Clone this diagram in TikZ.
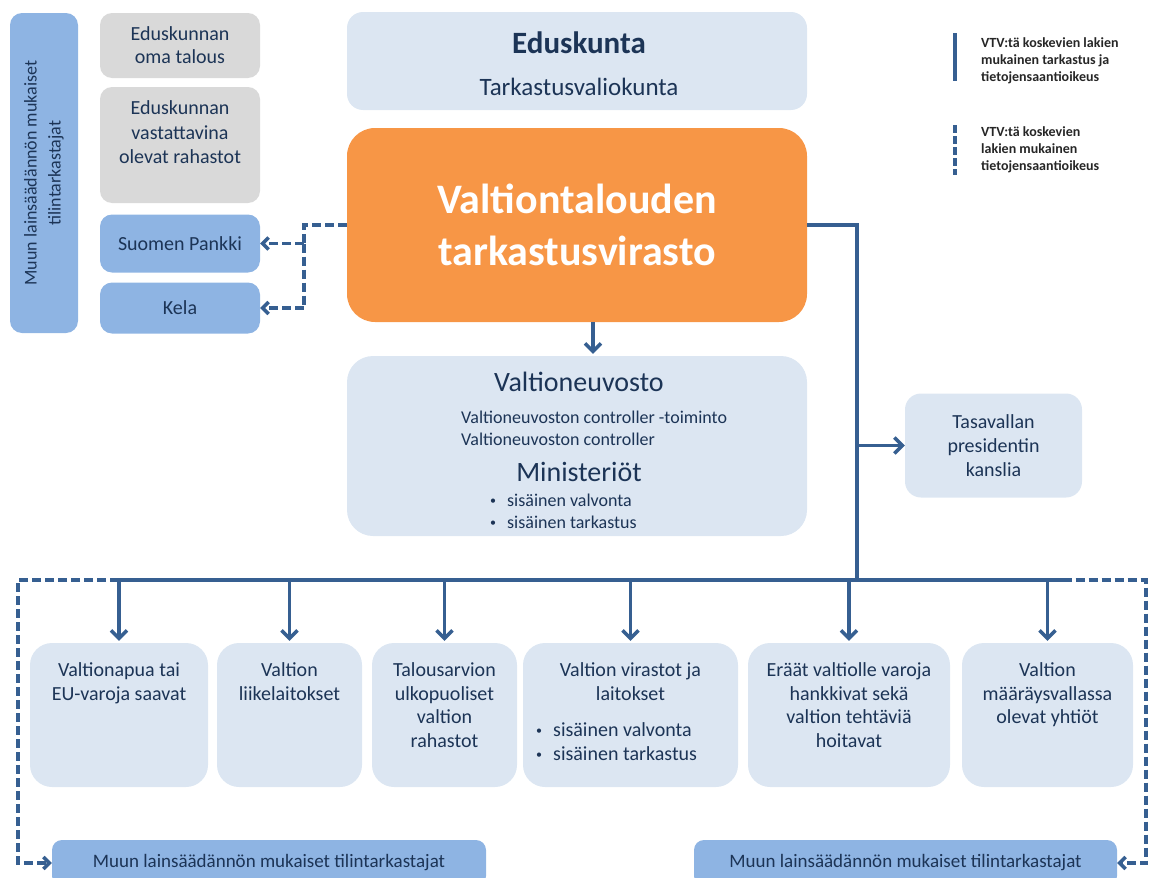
\documentclass[tikz,border=0pt]{standalone}
\usepackage{fontspec}
\setmainfont{Carlito}
\usetikzlibrary{arrows.meta}

\definecolor{vtvorange}{RGB}{247,150,70}
\definecolor{paleblue}{RGB}{220,230,242}
\definecolor{midblue}{RGB}{142,180,227}
\definecolor{palegrey}{RGB}{217,217,217}
\definecolor{linkblue}{RGB}{54,95,145}
\definecolor{navytext}{RGB}{28,52,86}
\definecolor{legendtext}{RGB}{38,38,38}

\newcommand{\fsize}[2]{\fontsize{#1}{#2}\selectfont}
\newcommand{\dotitem}{\raisebox{2pt}{\fsize{12}{12}\textbullet}\hspace{11pt}}

\tikzset{
  box/.style={rounded corners=12pt,inner sep=0pt,align=center,text=navytext,font=\fsize{20}{24}},
  palebox/.style={box,fill=paleblue},
  midbox/.style={box,fill=midblue},
  greybox/.style={box,fill=palegrey},
  boxtext/.style={inner sep=0pt,align=center,text=navytext,font=\fsize{20}{23.5}},
  smalltext/.style={boxtext,font=\fsize{18}{22}},
  legtext/.style={inner sep=0pt,align=left,text=legendtext,font=\fsize{14}{17}\bfseries},
  link/.style={draw=linkblue,line width=3.5pt},
  feed/.style={link,-{Straight Barb[length=8pt,width=16pt]}},
  dashlink/.style={link,dash pattern=on 9pt off 4pt},
  dashfeed/.style={dashlink,-{Straight Barb[length=6pt,width=12pt]}}
}

\begin{document}
\begin{tikzpicture}[x=1pt,y=-1pt,>=Stealth]
\useasboundingbox (0,0) rectangle (1149,878);

% left column
\node[midbox,rotate=90,minimum width=320pt,minimum height=68pt,font=\fsize{18}{24}] (auditcol) at (44,173)
  {Muun lainsäädännön mukaiset\\tilintarkastajat};
\node[greybox,minimum width=160pt,minimum height=65pt,font=\fsize{20}{23}] (omatalous) at (180,45.5)
  {Eduskunnan\\oma talous};
\node[greybox,minimum width=160pt,minimum height=116pt] (rahastot) at (180,145) {};
\node[boxtext,anchor=north,font=\fsize{20}{24.5}] (rahastotT) at ([yshift=-14pt]rahastot.north)
  {Eduskunnan\\vastattavina\\olevat rahastot};
\node[midbox,minimum width=160pt,minimum height=58pt] (pankki) at (180,243.5) {Suomen Pankki};
\node[midbox,minimum width=160pt,minimum height=51pt] (kela) at (180,308) {Kela};

% centre column
\node[palebox,rounded corners=16pt,minimum width=460pt,minimum height=98pt] (eduskunta) at (577,61) {};
\node[boxtext,anchor=base,font=\fsize{31}{36}\bfseries] (eduskuntaT) at (579,53) {Eduskunta};
\node[boxtext,anchor=base,font=\fsize{25}{30}] (tvk) at (579,95) {Tarkastusvaliokunta};

\node[box,fill=vtvorange,rounded corners=28pt,minimum width=460pt,minimum height=194pt,
      text=white,font=\fsize{42}{52}\bfseries] (vtv) at (577,225)
  {Valtiontalouden\\tarkastusvirasto};

\node[palebox,rounded corners=26pt,minimum width=460pt,minimum height=180pt] (vn) at (577,446) {};
\node[boxtext,anchor=base,font=\fsize{28}{32}] (vnT) at (579,391) {Valtioneuvosto};
\node[smalltext,anchor=base west] (ctrlA) at (461,423) {Valtioneuvoston controller -toiminto};
\node[smalltext,anchor=base west] (ctrlB) at (461,445) {Valtioneuvoston controller};
\node[boxtext,anchor=base,font=\fsize{28}{32}] (minT) at (579,481) {Ministeriöt};
\node[smalltext,anchor=base west] (minA) at (490,506) {\dotitem sisäinen valvonta};
\node[smalltext,anchor=base west] (minB) at (490,528) {\dotitem sisäinen tarkastus};

% right column
\node[palebox,rounded corners=16pt,minimum width=177pt,minimum height=104pt] (tpk) at (993.5,445.5)
  {Tasavallan\\presidentin\\kanslia};

% bottom row
\node[palebox,rounded corners=22pt,minimum width=178pt,minimum height=144pt] (b1) at (119,715) {};
\node[palebox,rounded corners=22pt,minimum width=145pt,minimum height=144pt] (b2) at (289.5,715) {};
\node[palebox,rounded corners=22pt,minimum width=145pt,minimum height=144pt] (b3) at (444.5,715) {};
\node[palebox,rounded corners=22pt,minimum width=215pt,minimum height=144pt] (b4) at (630.5,715) {};
\node[palebox,rounded corners=22pt,minimum width=202pt,minimum height=144pt] (b5) at (849,715) {};
\node[palebox,rounded corners=22pt,minimum width=171pt,minimum height=144pt] (b6) at (1047.5,715) {};

\node[boxtext,anchor=north] (b1T) at ([yshift=-20pt]b1.north) {Valtionapua tai\\EU-varoja saavat};
\node[boxtext,anchor=north] (b2T) at ([yshift=-20pt]b2.north) {Valtion\\liikelaitokset};
\node[boxtext,anchor=north] (b3T) at ([yshift=-20pt]b3.north) {Talousarvion\\ulkopuoliset\\valtion\\rahastot};
\node[boxtext,anchor=north] (b4T) at ([yshift=-20pt]b4.north) {Valtion virastot ja\\laitokset};
\node[boxtext,anchor=north west,align=left,font=\fsize{20}{24}] (b4L) at (536,722)
  {\dotitem sisäinen valvonta\\\dotitem sisäinen tarkastus};
\node[boxtext,anchor=north] (b5T) at ([yshift=-20pt]b5.north) {Eräät valtiolle varoja\\hankkivat sekä\\valtion tehtäviä\\hoitavat};
\node[boxtext,anchor=north] (b6T) at ([yshift=-20pt]b6.north) {Valtion\\määräysvallassa\\olevat yhtiöt};

\node[midbox,rounded corners=10pt,minimum width=434pt,minimum height=46pt,font=\fsize{19}{24}] (muunL) at (269,863)
  {Muun lainsäädännön mukaiset tilintarkastajat};
\node[midbox,rounded corners=10pt,minimum width=423pt,minimum height=46pt,font=\fsize{19}{24}] (muunR) at (905.5,863)
  {Muun lainsäädännön mukaiset tilintarkastajat};

% legend
\coordinate (legA1) at (955,33);
\coordinate (legA2) at (955,81);
\coordinate (legB1) at (955,125);
\coordinate (legB2) at (955,175);
\draw[link] (legA1) -- (legA2);
\draw[dashlink,dash pattern=on 8pt off 3pt] (legB1) -- (legB2);
\node[legtext,anchor=north west] (legA) at (981,37) {VTV:tä koskevien lakien\\mukainen tarkastus ja\\tietojensaantioikeus};
\node[legtext,anchor=north west] (legB) at (981,126) {VTV:tä koskevien\\lakien mukainen\\tietojensaantioikeus};

% connectors
\coordinate (splitx) at (304,0);
\coordinate (bus) at (857,580);
\coordinate (edgeL) at (18,0);
\coordinate (edgeR) at (1146,0);

\draw[dashlink] (vtv.west) -- (vtv.west -| splitx) -- (pankki.east -| splitx);
\draw[dashfeed] (pankki.east -| splitx) -- (pankki.east);
\draw[dashfeed] (pankki.east -| splitx) |- (kela.east);

\draw[feed,shorten >=2pt] ([xshift=16pt]vtv.south) -- ([xshift=16pt]vn.north);

\draw[link] (vtv.east) -| (bus);
\draw[feed] (tpk.west -| bus) -- (tpk.west);
\draw[link] (b1.north |- bus) -- ([xshift=15pt]b6.north |- bus);
\foreach \b in {b1,b2,b3,b4,b5,b6}
  \draw[feed,shorten >=2pt] (\b.north |- bus) -- (\b.north);

\draw[dashfeed] (b1.north |- bus) -- (edgeL |- bus) |- (muunL.west);
\draw[dashfeed] ([xshift=15pt]b6.north |- bus) -- (edgeR |- bus) |- (muunR.east);
\end{tikzpicture}
\end{document}
